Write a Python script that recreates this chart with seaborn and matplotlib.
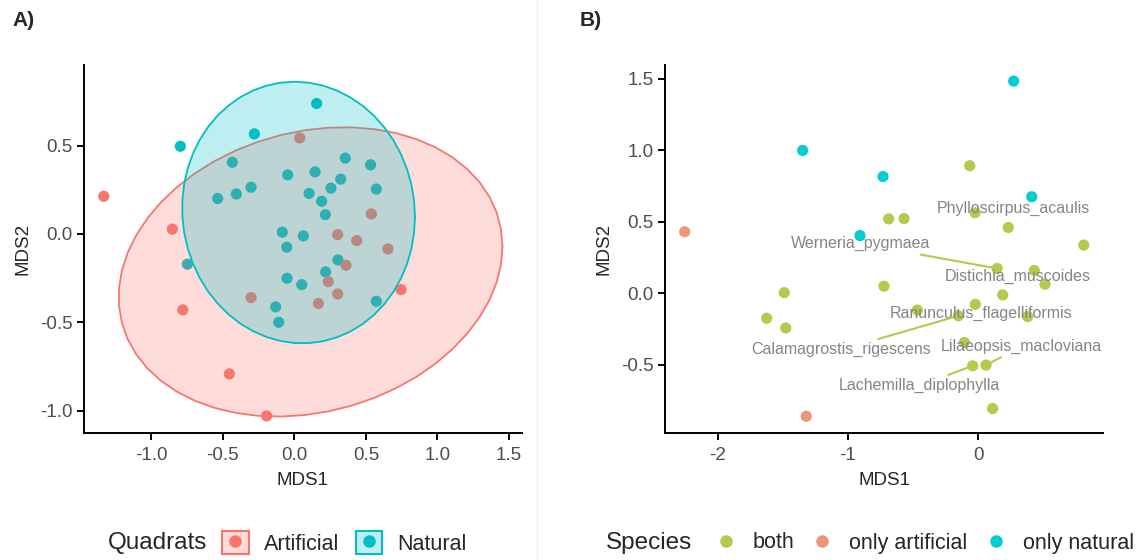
import numpy as np
import pandas as pd
import matplotlib
matplotlib.use('Agg')
import matplotlib.pyplot as plt
import seaborn as sns
from matplotlib.patches import Patch
from matplotlib.lines import Line2D

# ---- panel A: quadrat scores ----
quad_mds1 = [0.156, -0.279, -0.796, -0.433, -0.535, -0.405, -0.302, -0.046, 0.145, 0.356,
             0.533, 0.324, 0.256, 0.103, 0.573, 0.191, 0.217, -0.084, 0.063, -0.053,
             -0.747, 0.305, 0.219, -0.051, 0.052, -0.130, -0.109, 0.573,
             -1.331, -0.852, -0.779, -0.454, -0.193, 0.745, 0.038, 0.538, 0.303, 0.436,
             0.654, 0.361, 0.237, -0.302, 0.303, 0.168]
quad_mds2 = [0.738, 0.566, 0.496, 0.405, 0.200, 0.226, 0.264, 0.334, 0.351, 0.429,
             0.391, 0.310, 0.259, 0.229, 0.254, 0.185, 0.109, 0.010, -0.011, -0.075,
             -0.171, -0.147, -0.215, -0.251, -0.287, -0.413, -0.500, -0.381,
             0.213, 0.027, -0.430, -0.792, -1.030, -0.315, 0.543, 0.113, -0.004, -0.038,
             -0.085, -0.177, -0.270, -0.360, -0.340, -0.394]
quad_type = ['Natural'] * 28 + ['Artificial'] * 16
quad_order = ['Artificial', 'Natural']
quad_pal = {'Artificial': '#F8766D', 'Natural': '#00BFC4'}

# ---- panel B: species scores ----
sp_mds1 = [0.271, -1.348, -0.731, 0.410, -0.908,
           -2.253, -1.320,
           -0.066, -0.688, -0.570, -0.025, 0.230, 0.809, 0.144, 0.430, 0.512, -0.724, -1.489,
           0.187, -0.023, -0.468, -1.624, -1.478, -0.153, 0.379, -0.107, -0.043, 0.059, 0.110]
sp_mds2 = [1.484, 0.999, 0.816, 0.675, 0.403,
           0.430, -0.861,
           0.892, 0.520, 0.522, 0.563, 0.460, 0.337, 0.173, 0.159, 0.063, 0.049, 0.004,
           -0.012, -0.078, -0.118, -0.175, -0.243, -0.158, -0.164, -0.345, -0.508, -0.503, -0.807]
sp_group = ['only natural'] * 5 + ['only artificial'] * 2 + ['both'] * 22
sp_order = ['both', 'only artificial', 'only natural']
sp_pal = {'both': '#B8C84C', 'only artificial': '#E9967A', 'only natural': '#00CED1'}

# labelled species: name, index of its point
label_names = ['Phylloscirpus_acaulis', 'Werneria_pygmaea', 'Distichia_muscoides',
               'Ranunculus_flagelliformis', 'Calamagrostis_rigescens',
               'Lilaeopsis_macloviana', 'Lachemilla_diplophylla']
label_point = [11, 13, 18, 19, 23, 27, 26]
# where the repelled labels ended up (layout only)
label_xy = [(0.269, 0.592), (-0.900, 0.346), (0.300, 0.119), (0.021, -0.143),
            (-1.054, -0.396), (0.333, -0.372), (-0.453, -0.648)]
label_segment = [False, True, False, False, True, True, True]

quads = pd.DataFrame({'MDS1': quad_mds1, 'MDS2': quad_mds2, 'Quadrats': quad_type})
species = pd.DataFrame({'MDS1': sp_mds1, 'MDS2': sp_mds2, 'Species': sp_group})


def t_ellipse(x, y, level=0.95, nu=5, segments=51):
    # same idea as ggplot2 stat_ellipse(type = "t"): robust t covariance
    pts = np.column_stack([x, y])
    n, p = pts.shape
    loc = pts.mean(axis=0)
    w = np.ones(n)
    for _ in range(25):
        w0 = w
        dev = pts - loc
        s = (dev * (w / w.sum())[:, None]).T @ dev
        q = np.einsum('ij,jk,ik->i', dev, np.linalg.inv(s), dev)
        w = (nu + p) / (nu + q)
        loc = (w[:, None] * pts).sum(axis=0) / w.sum()
        if np.all(np.abs(w - w0) < 0.01):
            break
    shape = (dev * w[:, None]).T @ dev / n
    dfd = n - 1
    fq = dfd / 2 * ((1 - level) ** (-2 / dfd) - 1)
    radius = np.sqrt(2 * fq)
    ang = np.linspace(0, 2 * np.pi, segments + 1)
    circle = np.column_stack([np.cos(ang), np.sin(ang)])
    chol = np.linalg.cholesky(shape).T
    return loc + radius * circle @ chol


sns.set_theme(style='ticks')
plt.rcParams['font.family'] = ['Liberation Sans', 'DejaVu Sans']
plt.rcParams['axes.unicode_minus'] = False

fig = plt.figure(figsize=(11.46, 5.6), dpi=100)
ax1 = fig.add_axes([0.0733, 0.2263, 0.3819, 0.6577])
ax2 = fig.add_axes([0.5803, 0.2263, 0.3822, 0.6577])

# panel A
sns.scatterplot(data=quads, x='MDS1', y='MDS2', hue='Quadrats', hue_order=quad_order,
                palette=quad_pal, s=65, linewidth=0, legend=False, ax=ax1, zorder=2)
for i, name in enumerate(quad_order):
    sub = quads[quads.Quadrats == name]
    ring = t_ellipse(sub.MDS1.values, sub.MDS2.values)
    ax1.fill(ring[:, 0], ring[:, 1], facecolor=quad_pal[name], alpha=0.25,
             edgecolor='none', zorder=3 + 2 * i)
    ax1.plot(ring[:, 0], ring[:, 1], color=quad_pal[name], lw=1.3, zorder=4 + 2 * i)
ax1.set_xlim(-1.469, 1.588)
ax1.set_ylim(-1.128, 0.956)
ax1.set_xticks([-1.0, -0.5, 0.0, 0.5, 1.0, 1.5])
ax1.set_yticks([-1.0, -0.5, 0.0, 0.5])

# panel B
sns.scatterplot(data=species, x='MDS1', y='MDS2', hue='Species', hue_order=sp_order,
                palette=sp_pal, s=65, linewidth=0, legend=False, ax=ax2, zorder=3)
for name, idx, xy, seg in zip(label_names, label_point, label_xy, label_segment):
    px, py = sp_mds1[idx], sp_mds2[idx]
    if seg:
        ax2.annotate(name, xy=(px, py), xytext=xy, ha='center', va='center',
                     fontsize=11.5, color='#858585', zorder=4,
                     arrowprops=dict(arrowstyle='-', color=sp_pal['both'], lw=1.5,
                                     shrinkA=0, shrinkB=4))
    else:
        ax2.text(xy[0], xy[1], name, ha='center', va='center', fontsize=11.5,
                 color='#858585', zorder=4)
ax2.set_xlim(-2.404, 0.957)
ax2.set_ylim(-0.980, 1.597)
ax2.set_xticks([-2, -1, 0])
ax2.set_yticks([-0.5, 0.0, 0.5, 1.0, 1.5])
ax2.set_yticklabels(['-0.5', '0.0', '0.5', '1.0', '1.5'])

for ax in (ax1, ax2):
    sns.despine(ax=ax)
    for sp in ('left', 'bottom'):
        ax.spines[sp].set_linewidth(1.4)
        ax.spines[sp].set_color('black')
    ax.tick_params(length=5, width=1.4, color='black', labelsize=13.5,
                   labelcolor='#4D4D4D', pad=3)
    ax.tick_params(axis='x', pad=5)
    ax.set_xlabel('MDS1', fontsize=13.5, labelpad=6)
    ax.set_ylabel('MDS2', fontsize=13.5, labelpad=6)
    ax.grid(False)
ax1.xaxis.set_major_formatter(matplotlib.ticker.FormatStrFormatter('%.1f'))
ax1.yaxis.set_major_formatter(matplotlib.ticker.FormatStrFormatter('%.1f'))

# panel tags
fig.text(0.011, 1 - 21 / 560, 'A)', fontsize=15, fontweight='bold', va='center')
fig.text(0.506, 1 - 21 / 560, 'B)', fontsize=15, fontweight='bold', va='center')

# faint divider between the two panels
fig.add_artist(Line2D([537 / 1146] * 2, [0, 1], transform=fig.transFigure,
                      color='#EEEEEE', lw=1))

# legend A
leg_y = 1 - 543 / 560
fig.text(108 / 1146, leg_y, 'Quadrats', fontsize=17.5, va='center')
quad_handles = [(Patch(facecolor=matplotlib.colors.to_rgba(quad_pal[n], 0.25),
                       edgecolor=quad_pal[n], linewidth=1.5),
                 Line2D([], [], marker='o', ls='', color=quad_pal[n], markersize=8))
                for n in quad_order]
fig.legend(quad_handles, quad_order, loc='center left',
           bbox_to_anchor=(222 / 1146, leg_y), ncol=2, frameon=False, fontsize=15.5,
           handlelength=1.25, handleheight=1.25, handletextpad=0.7, columnspacing=0.75,
           borderpad=0, borderaxespad=0)

# legend B
fig.text(606 / 1146, leg_y, 'Species', fontsize=17.5, va='center')
sp_handles = [Line2D([], [], marker='o', ls='', color=sp_pal[n], markersize=8)
              for n in sp_order]
fig.legend(sp_handles, sp_order, loc='center left',
           bbox_to_anchor=(714 / 1146, leg_y), ncol=3, frameon=False, fontsize=15.5,
           handlelength=1.1, handletextpad=0.7, columnspacing=0.75,
           borderpad=0, borderaxespad=0)

fig.savefig('out.png', dpi=100)
